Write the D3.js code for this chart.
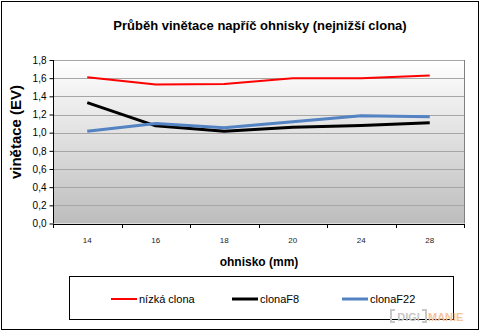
<!DOCTYPE html>
<html>
<head>
<meta charset="utf-8">
<script src="https://cdn.jsdelivr.net/npm/d3@7"></script>
<style>
  html, body { margin: 0; padding: 0; background: #fff; }
  svg { display: block; font-family: "Liberation Sans", Arial, sans-serif; }
</style>
</head>
<body>
<svg id="chart" width="480" height="331"></svg>
<script>
// Focal lengths (mm) and vignetting (EV) for three aperture settings
const focalLengths = ["14", "16", "18", "20", "24", "28"];
const nizkaClona = [1.61, 1.53, 1.535, 1.60, 1.60, 1.63];
const clonaF8    = [1.33, 1.075, 1.015, 1.06, 1.08, 1.11];
const clonaF22   = [1.015, 1.10, 1.055, 1.12, 1.185, 1.175];
const yTicks = [0, 0.2, 0.4, 0.6, 0.8, 1.0, 1.2, 1.4, 1.6, 1.8];
const seriesNames = ["nízká clona", "clonaF8", "clonaF22"];

const series = [
  { name: seriesNames[0], values: nizkaClona, color: "#ff0000", width: 2 },
  { name: seriesNames[1], values: clonaF8,    color: "#000000", width: 3 },
  { name: seriesNames[2], values: clonaF22,   color: "#5383c3", width: 3 }
];

const svg = d3.select("#chart");
const plot = { left: 53, right: 464, top: 60, bottom: 223.5 };

const x = d3.scaleBand().domain(focalLengths).range([plot.left, plot.right]);
const y = d3.scaleLinear().domain([0, 1.8]).range([plot.bottom, plot.top]);
const czech = d3.formatLocale({ decimal: ",", thousands: " ", grouping: [3], currency: ["", " Kč"] });
const fmt = czech.format(".1f");

// Outer frame
svg.append("rect")
  .attr("x", 1.5).attr("y", 1.5).attr("width", 477).attr("height", 328)
  .attr("fill", "#fff").attr("stroke", "#000").attr("stroke-width", 1);

// Plot background gradient
const defs = svg.append("defs");
const grad = defs.append("linearGradient").attr("id", "bg")
  .attr("x1", 0).attr("y1", 0).attr("x2", 0).attr("y2", 1);
grad.append("stop").attr("offset", "0%").attr("stop-color", "#ffffff");
grad.append("stop").attr("offset", "100%").attr("stop-color", "#bdbdbd");

svg.append("rect")
  .attr("x", plot.left).attr("y", plot.top)
  .attr("width", plot.right - plot.left).attr("height", plot.bottom - plot.top)
  .attr("fill", "url(#bg)");

// Horizontal gridlines
svg.append("g").selectAll("line").data(yTicks.filter(d => d > 0)).join("line")
  .attr("x1", plot.left).attr("x2", plot.right)
  .attr("y1", d => Math.round(y(d)) + 0.5).attr("y2", d => Math.round(y(d)) + 0.5)
  .attr("stroke", "#a6a6a6").attr("stroke-width", 1);

// Plot-area right border
svg.append("line")
  .attr("x1", plot.right + 0.5).attr("x2", plot.right + 0.5)
  .attr("y1", plot.top).attr("y2", plot.bottom)
  .attr("stroke", "#808080");

// Y axis
const yAxis = d3.axisLeft(y).tickValues(yTicks).tickFormat(fmt).tickSize(4).tickPadding(3);
const gy = svg.append("g").attr("transform", `translate(${plot.left + 0.5},0)`).call(yAxis);
gy.select(".domain").attr("stroke", "#000").attr("d", `M0,${plot.top}V${plot.bottom}`);
gy.selectAll(".tick line").attr("stroke", "#000");
gy.selectAll(".tick text").attr("font-size", 10).attr("fill", "#000")
  .attr("font-family", "Liberation Sans, Arial, sans-serif");

// X axis: ticks between categories, labels centred in bands
const boundaries = focalLengths.map(d => x(d)).concat([plot.right]);
const gx = svg.append("g");
gx.append("line")
  .attr("x1", plot.left).attr("x2", plot.right + 1)
  .attr("y1", Math.round(plot.bottom) + 0.5).attr("y2", Math.round(plot.bottom) + 0.5)
  .attr("stroke", "#000");
gx.selectAll("line.tk").data(boundaries).join("line").attr("class", "tk")
  .attr("x1", d => Math.round(d) + 0.5).attr("x2", d => Math.round(d) + 0.5)
  .attr("y1", Math.round(plot.bottom)).attr("y2", Math.round(plot.bottom) + 4)
  .attr("stroke", "#000");
gx.selectAll("text").data(focalLengths).join("text")
  .attr("x", d => x(d) + x.bandwidth() / 2).attr("y", 243)
  .attr("text-anchor", "middle").attr("font-size", 8).attr("fill", "#1a1a1a")
  .text(d => d);

// Series lines
const line = d3.line()
  .x((d, i) => x(focalLengths[i]) + x.bandwidth() / 2)
  .y(d => y(d));

svg.append("g").selectAll("path").data(series).join("path")
  .attr("d", s => line(s.values))
  .attr("fill", "none")
  .attr("stroke", s => s.color)
  .attr("stroke-width", s => s.width)
  .attr("stroke-linejoin", "round");

// Titles
svg.append("text").attr("x", 260).attr("y", 30).attr("text-anchor", "middle")
  .attr("font-size", 13).attr("font-weight", "bold")
  .text("Průběh vinětace napříč ohnisky (nejnižší clona)");

svg.append("text").attr("transform", "translate(21,132) rotate(-90)")
  .attr("text-anchor", "middle").attr("font-size", 15).attr("font-weight", "bold")
  .text("vinětace (EV)");

svg.append("text").attr("x", 259).attr("y", 266).attr("text-anchor", "middle")
  .attr("font-size", 12).attr("font-weight", "bold")
  .text("ohnisko (mm)");

// Legend
svg.append("rect")
  .attr("x", 69.5).attr("y", 276.5).attr("width", 384).attr("height", 43)
  .attr("fill", "#fff").attr("stroke", "#000");

const legendX = [111, 232, 342];
const lg = svg.append("g").selectAll("g").data(series).join("g")
  .attr("transform", (s, i) => `translate(${legendX[i]},299)`);
lg.append("line").attr("x1", 0).attr("x2", 26).attr("y1", 0).attr("y2", 0)
  .attr("stroke", s => s.color).attr("stroke-width", s => s.width);
lg.append("text").attr("x", 28).attr("y", 4).attr("font-size", 11)
  .text(s => s.name);

// Watermark
const wm = svg.append("g").attr("transform", "translate(391,321)");
wm.append("path")
  .attr("d", "M4,-11H0V1H4 M31,-11H35V1H31")
  .attr("fill", "none").attr("stroke", "#c8c8c8").attr("stroke-width", 2);
wm.append("text").attr("x", 17.5).attr("y", 0).attr("text-anchor", "middle")
  .attr("font-size", 11).attr("font-weight", "bold").attr("fill", "#c8c8c8").text("DIGI");
wm.append("text").attr("x", 37).attr("y", 0)
  .attr("font-size", 11).attr("font-weight", "bold").attr("fill", "#f5c49a").text("MANIE");
</script>
</body>
</html>
